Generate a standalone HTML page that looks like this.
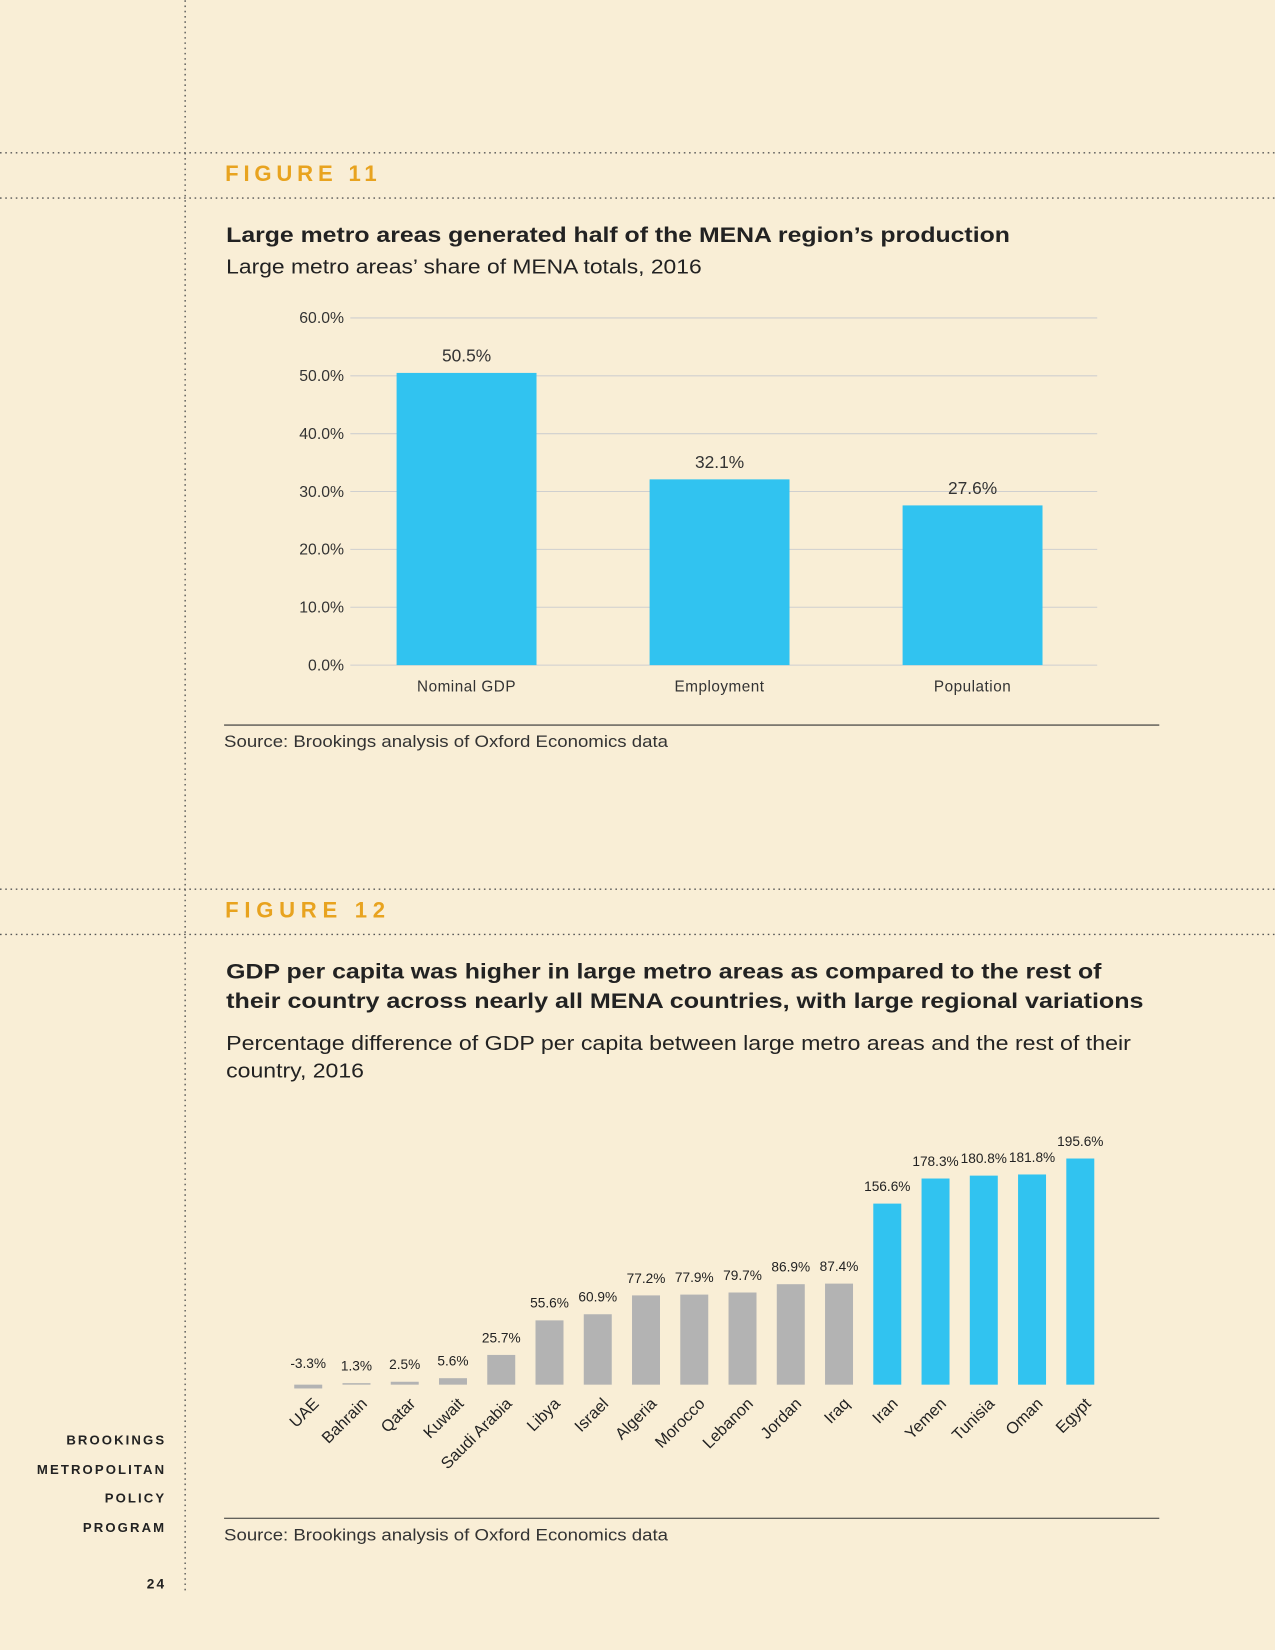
<!DOCTYPE html>
<html><head><meta charset="utf-8"><style>
html,body{margin:0;padding:0;background:#f9eed6;}
svg{display:block;font-family:"Liberation Sans",sans-serif;}
</style></head><body>
<svg width="1275" height="1650" viewBox="0 0 1212 1568" xmlns="http://www.w3.org/2000/svg">
<rect width="1212" height="1568" fill="#f9eed6"/>
<g stroke="#555" stroke-width="1.3" stroke-dasharray="1.5 3.5">
<line x1="176" y1="0" x2="176" y2="1515"/>
<line x1="0" y1="145" x2="1212" y2="145"/>
<line x1="0" y1="188" x2="1212" y2="188"/>
<line x1="0" y1="845" x2="1212" y2="845"/>
<line x1="0" y1="888" x2="1212" y2="888"/>
</g>
<text x="214" y="172" font-size="21" font-weight="bold" fill="#e8a31f" textLength="144" lengthAdjust="spacing">FIGURE 11</text>
<text x="215" y="230" font-size="20.5" font-weight="bold" fill="#222" textLength="745" lengthAdjust="spacingAndGlyphs">Large metro areas generated half of the MENA region’s production</text>
<text x="215" y="260" font-size="19" fill="#222" textLength="452" lengthAdjust="spacingAndGlyphs">Large metro areas’ share of MENA totals, 2016</text>
<g id="c1"></g>
<line x1="213" y1="689" x2="1102" y2="689" stroke="#333" stroke-width="1"/>
<text x="213" y="710" font-size="15.5" fill="#333" textLength="422" lengthAdjust="spacingAndGlyphs">Source: Brookings analysis of Oxford Economics data</text>

<text x="214" y="872" font-size="21" font-weight="bold" fill="#e8a31f" textLength="152" lengthAdjust="spacing">FIGURE 12</text>
<text font-size="20.5" font-weight="bold" fill="#222"><tspan x="215" y="930" textLength="832" lengthAdjust="spacingAndGlyphs">GDP per capita was higher in large metro areas as compared to the rest of</tspan><tspan x="215" y="958" textLength="872" lengthAdjust="spacingAndGlyphs">their country across nearly all MENA countries, with large regional variations</tspan></text>
<text font-size="19" fill="#222"><tspan x="215" y="998" textLength="860" lengthAdjust="spacingAndGlyphs">Percentage difference of GDP per capita between large metro areas and the rest of their</tspan><tspan x="215" y="1024" textLength="131" lengthAdjust="spacingAndGlyphs">country, 2016</tspan></text>
<g id="c2"></g>
<line x1="213" y1="1443" x2="1102" y2="1443" stroke="#333" stroke-width="1"/>
<text x="213" y="1464" font-size="15.5" fill="#333" textLength="422" lengthAdjust="spacingAndGlyphs">Source: Brookings analysis of Oxford Economics data</text>

<g font-size="12.5" font-weight="bold" fill="#222" text-anchor="end" letter-spacing="2">
<text x="158" y="1373">BROOKINGS</text><text x="158" y="1401">METROPOLITAN</text><text x="158" y="1428">POLICY</text><text x="158" y="1456">PROGRAM</text>
</g>
<text x="158" y="1510" font-size="13" font-weight="bold" fill="#222" text-anchor="end" letter-spacing="2">24</text>
</svg>
<script>
const NS="http://www.w3.org/2000/svg";
const cats1=["Nominal GDP","Employment","Population"];
const vals1=[50.5,32.1,27.6];
const labels1=["50.5%","32.1%","27.6%"];
const ticks1=[0,10,20,30,40,50,60];
const cats2=["UAE","Bahrain","Qatar","Kuwait","Saudi Arabia","Libya","Israel","Algeria","Morocco","Lebanon","Jordan","Iraq","Iran","Yemen","Tunisia","Oman","Egypt"];
const vals2=[-3.3,1.3,2.5,5.6,25.7,55.6,60.9,77.2,77.9,79.7,86.9,87.4,156.6,178.3,180.8,181.8,195.6];
const highlight2=[0,0,0,0,0,0,0,0,0,0,0,0,1,1,1,1,1];
function mk(p,t,a,txt){const e=document.createElementNS(NS,t);for(const k in a)e.setAttribute(k,a[k]);if(txt!==undefined)e.textContent=txt;p.appendChild(e);return e;}
const c1=document.getElementById('c1');
const y1=v=>632-v*5.5;
const x1=i=>443.5+i*240.5;
ticks1.forEach(t=>{
 const l=mk(c1,'line',{x1:333,x2:1043,y1:y1(t),y2:y1(t),stroke:'#cfcfcf','stroke-width':1});
 
 
 const tx=mk(c1,'text',{x:327,y:y1(t)+5,'font-size':15,fill:'#333','text-anchor':'end'},t.toFixed(1)+'%');
 
 
});
vals1.forEach((v,i)=>{
 const r=mk(c1,'rect',{x:x1(i)-66.5,y:y1(v),width:133,height:v*5.5,fill:'#31c3f0'});
 
 
 const t=mk(c1,'text',{x:x1(i),y:y1(v)-11,'font-size':16.5,fill:'#333','text-anchor':'middle'},labels1[i]);
 
 
 const c=mk(c1,'text',{x:x1(i),y:657,'font-size':14.5,fill:'#333','text-anchor':'middle','letter-spacing':0.5},cats1[i]);
 
 
});
const c2=document.getElementById('c2');
const base=1316,k=1.099;
const x2=i=>293+i*45.87;
vals2.forEach((v,i)=>{
 const h=Math.abs(v)*k;
 const r=mk(c2,'rect',{x:x2(i)-13.3,y:v>=0?base-h:base,width:26.6,height:Math.max(h,1),fill:highlight2[i]?'#31c3f0':'#b3b3b3'});
 
 
 const ty=(v>=0?base-h:base)-12;
 const t=mk(c2,'text',{x:x2(i),y:v>=0?ty:base-16,'font-size':13,fill:'#222','text-anchor':'middle'},v.toFixed(1)+'%');
 
 
 const c=mk(c2,'text',{x:0,y:0,'font-size':15.5,fill:'#222','text-anchor':'end',transform:`translate(${x2(i)+11},${base+19}) rotate(-45)`},cats2[i]);
 
 
});
</script>
</body></html>
